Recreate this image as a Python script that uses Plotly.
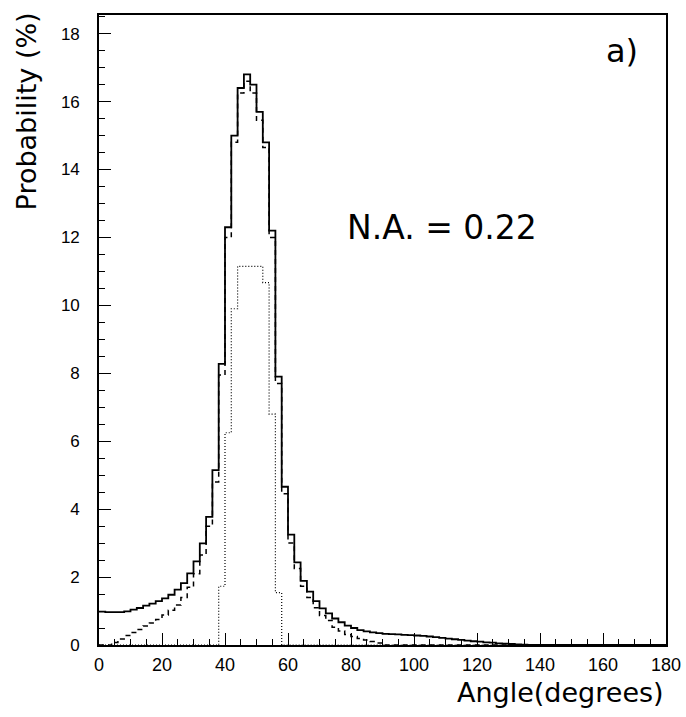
import plotly.graph_objects as go

# ---- data (2-degree bins from 0 to 180) ----
bin_width = 2
n_bins = 90

solid_values = [
    0.98, 0.97, 0.97, 0.97, 0.99, 1.04, 1.09, 1.16, 1.22, 1.29,   # 0-20
    1.37, 1.48, 1.63, 1.82, 2.11, 2.46, 2.99, 3.77, 5.15, 8.28,   # 20-40
    12.3, 15.0, 16.4, 16.8, 16.5, 15.7, 14.8, 12.2, 7.9, 4.66,    # 40-60
    3.25, 2.43, 1.89, 1.57, 1.29, 1.08, 0.93, 0.78, 0.67, 0.57,   # 60-80
    0.50, 0.44, 0.40, 0.37, 0.35, 0.33, 0.32, 0.31, 0.30, 0.29,   # 80-100
    0.28, 0.27, 0.25, 0.23, 0.21, 0.19, 0.17, 0.15, 0.13, 0.11,   # 100-120
    0.10, 0.08, 0.07, 0.05, 0.04, 0.03, 0.02, 0.01, 0.005, 0.0,   # 120-140
    0, 0, 0, 0, 0, 0, 0, 0, 0, 0,                                 # 140-160
    0, 0, 0, 0, 0, 0, 0, 0, 0, 0,                                 # 160-180
]

dashed_values = [
    0.0, 0.0, 0.07, 0.18, 0.28, 0.37, 0.46, 0.56, 0.65, 0.75,     # 0-20
    0.88, 1.02, 1.18, 1.40, 1.70, 2.10, 2.65, 3.50, 4.80, 7.95,   # 20-40
    12.0, 14.8, 16.25, 16.6, 16.25, 15.45, 14.65, 12.0, 7.7, 4.45,  # 40-60
    3.0, 2.25, 1.73, 1.40, 1.10, 0.87, 0.72, 0.52, 0.41, 0.31,    # 60-80
    0.25, 0.19, 0.15, 0.10, 0.06, 0, 0, 0, 0, 0,                  # 80-100
    0, 0, 0, 0, 0, 0, 0, 0, 0, 0,                                 # 100-120
    0, 0, 0, 0, 0, 0, 0, 0, 0, 0,                                 # 120-140
    0, 0, 0, 0, 0, 0, 0, 0, 0, 0,                                 # 140-160
    0, 0, 0, 0, 0, 0, 0, 0, 0, 0,                                 # 160-180
]

dotted_values = [
    0, 0, 0, 0, 0, 0, 0, 0, 0, 0,                                 # 0-20
    0, 0, 0, 0, 0, 0, 0, 0, 0, 1.73,                              # 20-40
    6.25, 9.9, 11.15, 11.15, 11.15, 11.15, 10.67, 6.8, 1.54, 0,   # 40-60
    0, 0, 0, 0, 0, 0, 0, 0, 0, 0,                                 # 60-80
    0, 0, 0, 0, 0, 0, 0, 0, 0, 0,                                 # 80-100
    0, 0, 0, 0, 0, 0, 0, 0, 0, 0,                                 # 100-120
    0, 0, 0, 0, 0, 0, 0, 0, 0, 0,                                 # 120-140
    0, 0, 0, 0, 0, 0, 0, 0, 0, 0,                                 # 140-160
    0, 0, 0, 0, 0, 0, 0, 0, 0, 0,                                 # 160-180
]

x_tick_values = [0, 20, 40, 60, 80, 100, 120, 140, 160, 180]
y_tick_values = [0, 2, 4, 6, 8, 10, 12, 14, 16, 18]

x_title = "Angle(degrees)"
y_title = "Probability (%)"
na_label = "N.A. = 0.22"
panel_label = "a)"

# ---- build step histograms ----
edges = [i * bin_width for i in range(n_bins + 1)]


def step_y(vals):
    return list(vals) + [vals[-1]]


fig = go.Figure()
fig.add_trace(go.Scatter(x=edges, y=step_y(dotted_values), mode="lines",
                         line=dict(shape="hv", color="black", width=1.2, dash="1px,2px"),
                         showlegend=False, hoverinfo="skip"))
fig.add_trace(go.Scatter(x=edges, y=step_y(dashed_values), mode="lines",
                         line=dict(shape="hv", color="black", width=1.5, dash="5px,4px"),
                         showlegend=False, hoverinfo="skip"))
fig.add_trace(go.Scatter(x=edges, y=step_y(solid_values), mode="lines",
                         line=dict(shape="hv", color="black", width=1.8),
                         showlegend=False, hoverinfo="skip"))

tick_font_x = dict(family="Liberation Sans, Arial, sans-serif", size=18, color="black")
tick_font_y = dict(family="Liberation Sans, Arial, sans-serif", size=17, color="black")
title_font = dict(family="DejaVu Sans, sans-serif", size=27, color="black")

fig.update_layout(
    width=686, height=717,
    margin=dict(l=99, r=20, t=15, b=71.5, autoexpand=False),
    paper_bgcolor="white", plot_bgcolor="white",
    xaxis=dict(range=[0, 180], tickvals=x_tick_values, ticks="inside", ticklen=12,
               tickwidth=1.2, tickcolor="black", showgrid=False, zeroline=False,
               showline=True, linecolor="black", linewidth=1.6, mirror=True,
               tickfont=tick_font_x, ticklabelstandoff=3, automargin=False,
               ticklabeloverflow="allow",
               minor=dict(dtick=5, ticks="inside", ticklen=6, tickwidth=1.2,
                          tickcolor="black", showgrid=False)),
    yaxis=dict(range=[0, 18.55], tickvals=y_tick_values, ticks="inside", ticklen=12,
               tickwidth=1.2, tickcolor="black", showgrid=False, zeroline=False,
               showline=True, linecolor="black", linewidth=1.6, mirror=True,
               tickfont=tick_font_y, ticklabelstandoff=14, automargin=False,
               ticklabeloverflow="allow",
               minor=dict(dtick=0.5, ticks="inside", ticklen=6, tickwidth=1.2,
                          tickcolor="black", showgrid=False)),
)

# plot area: 567 px wide, 630.5 px tall
fig.add_annotation(text=x_title, xref="paper", yref="paper", x=1.0, y=-0.0753,
                   xanchor="right", yanchor="middle", showarrow=False, font=title_font)
fig.add_annotation(text=y_title, xref="paper", yref="paper", x=-0.1287, y=0.847,
                   xanchor="center", yanchor="middle", textangle=-90, showarrow=False,
                   font=title_font)
fig.add_annotation(text=na_label, xref="x", yref="y", x=108.9, y=12.28,
                   xanchor="center", yanchor="middle", showarrow=False,
                   font=dict(family="DejaVu Sans, sans-serif", size=33, color="black"))
fig.add_annotation(text=panel_label, xref="x", yref="y", x=166, y=17.5,
                   xanchor="center", yanchor="middle", showarrow=False,
                   font=dict(family="DejaVu Sans, sans-serif", size=32, color="black"))

# remove the default 8px page margin so the figure sits at the window's corner
fig.write_html("out.html", config={"displayModeBar": False},
               post_script="document.body.style.margin='0px';")
